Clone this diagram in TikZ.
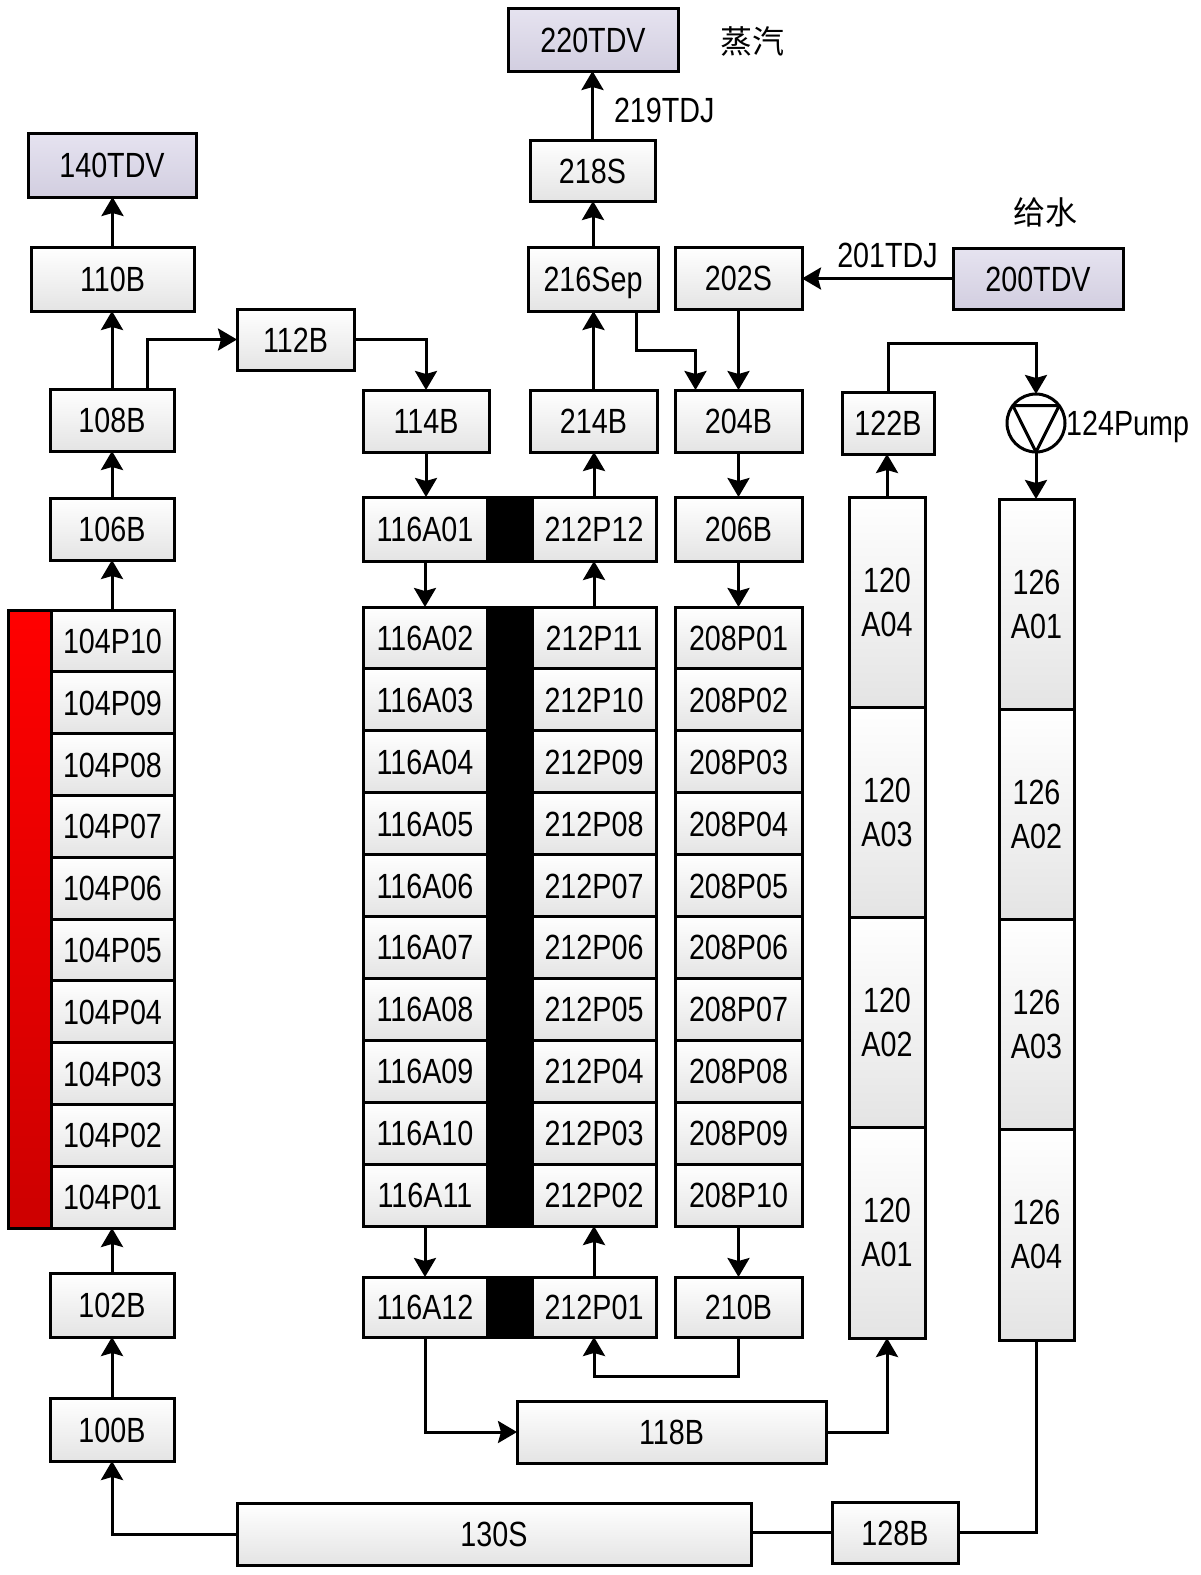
\documentclass[tikz,border=0pt]{standalone}
\usepackage{fontspec}
\setmainfont{Liberation Sans}[FakeStretch=0.82]
\newfontfamily\cjk{Noto Sans CJK SC}
\usetikzlibrary{arrows.meta,calc}
\definecolor{boxgray}{RGB}{228,228,228}
\definecolor{tdvtop}{RGB}{230,227,240}
\definecolor{tdvbot}{RGB}{210,206,224}
\definecolor{redtop}{RGB}{255,0,0}
\definecolor{redbot}{RGB}{205,0,0}
\newcommand\pbox[7][bx]{%
  \pgfmathsetmacro\myW{(#5)-(#3)}%
  \pgfmathsetmacro\myH{(#6)-(#4)}%
  \node[#1, minimum width=\myW pt, minimum height=\myH pt] (#2) at ({((#3)+(#5))/2},{((#4)+(#6))/2}) {#7};}
\tikzset{
  base/.style={draw, line width=3pt, inner sep=0pt, outer sep=0pt, top color=white, bottom color=boxgray, font=\fontsize{35}{44}\selectfont},
  bx/.style={base, text height=25pt, text depth=0pt},
  tdv/.style={bx, top color=tdvtop, bottom color=tdvbot},
  col/.style={base, align=center},
  arr/.style={line width=3pt, -{Stealth[length=19pt,width=22pt,inset=3pt]}},
  ln/.style={line width=3pt},
  lbl/.style={font=\fontsize{35}{44}\selectfont, inner sep=0pt, text height=25pt, text depth=0pt},
  cjklbl/.style={font=\cjk\fontsize{32}{36}\selectfont, inner sep=0pt},
}
\begin{document}
\begin{tikzpicture}[x=1pt,y=-1pt]
\fill[white] (0,0) rectangle (1200,1575);
\useasboundingbox (0,0) rectangle (1200,1575);

% left column
\pbox[tdv]{T140}{28}{133}{196}{197}{140TDV}
\pbox{B110}{31}{247}{194}{311}{110B}
\pbox{B108}{50}{389}{174}{451}{108B}
\pbox{B112}{237}{309}{354}{370}{112B}
\pbox{B106}{50}{498}{174}{560}{106B}
\draw[line width=3pt, top color=redtop, bottom color=redbot] (8,610) rectangle (51,1228);
\foreach \k/\n in {0/10,1/09,2/08,3/07,4/06,5/05,6/04,7/03,8/02,9/01}{
  \pgfmathsetmacro\ya{610+\k*61.8}\pgfmathsetmacro\yb{\ya+61.8}
  \pbox{L\n}{51}{\ya}{174}{\yb}{104P\n}
}
\pbox{B102}{50}{1273}{174}{1337}{102B}
\pbox{B100}{50}{1398}{174}{1461}{100B}
\pbox{S130}{237}{1503}{751}{1565}{130S}
\pbox{B128}{832}{1502}{958}{1563}{128B}

% middle
\pbox{B114}{363}{390}{489}{452}{114B}
\pbox{A01}{363}{497}{487}{561}{116A01}
\pbox{R12}{532}{497}{656}{561}{212P12}
\draw[line width=3pt, fill=black] (487,497) rectangle (532,561);
\foreach \k/\a/\r in {0/02/11,1/03/10,2/04/09,3/05/08,4/06/07,5/07/06,6/08/05,7/09/04,8/10/03,9/11/02}{
  \pgfmathsetmacro\ya{607+\k*61.9}\pgfmathsetmacro\yb{\ya+61.9}
  \pbox{A\a}{363}{\ya}{487}{\yb}{116A\a}
  \pbox{R\r}{532}{\ya}{656}{\yb}{212P\r}
}
\draw[line width=3pt, fill=black] (487,607) rectangle (532,1226);
\pbox{A12}{363}{1277}{487}{1337}{116A12}
\pbox{R01}{532}{1277}{656}{1337}{212P01}
\draw[line width=3pt, fill=black] (487,1277) rectangle (532,1337);
\foreach \k/\q in {0/01,1/02,2/03,3/04,4/05,5/06,6/07,7/08,8/09,9/10}{
  \pgfmathsetmacro\ya{607+\k*61.9}\pgfmathsetmacro\yb{\ya+61.9}
  \pbox{Q\q}{675}{\ya}{802}{\yb}{208P\q}
}
\pbox{B206}{675}{497}{802}{561}{206B}
\pbox{B204}{675}{390}{802}{452}{204B}
\pbox{S202}{675}{247}{802}{309}{202S}
\pbox{B214}{530}{390}{657}{452}{214B}
\pbox{S216}{528}{247}{658}{311}{216Sep}
\pbox{S218}{530}{140}{655}{201}{218S}
\pbox[tdv]{T220}{508}{8}{678}{71}{220TDV}
\pbox[tdv]{T200}{953}{248}{1123}{309}{200TDV}
\pbox{B210}{675}{1277}{802}{1337}{210B}
\pbox{B118}{517}{1401}{826}{1463}{118B}
\pbox{B122}{842}{392}{934}{454}{122B}

% right columns
\foreach \k/\a in {0/04,1/03,2/02,3/01}{
  \pgfmathsetmacro\ya{497+\k*210.25}\pgfmathsetmacro\yb{\ya+210.25}
  \pbox[col]{C120A\a}{849}{\ya}{925}{\yb}{120\\A\a}
}
\foreach \k/\a in {0/01,1/02,2/03,3/04}{
  \pgfmathsetmacro\ya{499+\k*210.25}\pgfmathsetmacro\yb{\ya+210.25}
  \pbox[col]{C126A\a}{999}{\ya}{1074}{\yb}{126\\A\a}
}

% pump
\node[draw, circle, line width=3pt, minimum size=58pt, inner sep=0pt, outer sep=0pt] (pump) at (1036,423) {};
\draw[ln, line join=round] (pump.143) -- (pump.37) -- (pump.south) -- cycle;
\node[lbl, anchor=west] (pumplbl) at ([xshift=1pt]pump.east) {124Pump};

% texts
\node[cjklbl] (steam) at (752,41) {蒸汽};
\node[cjklbl] (feed) at (1045,212) {给水};

% connectors left
\draw[arr] (B100.north) -- (B100.north |- B102.south);
\draw[arr] (B102.north) -- (B102.north |- L01.south);
\draw[arr] (B106.south |- L10.north) -- (B106.south);
\draw[arr] (B106.north) -- (B106.north |- B108.south);
\draw[arr] (B108.north) -- (B108.north |- B110.south);
\draw[arr] (B110.north) -- (B110.north |- T140.south);
\draw[arr] ([xshift=35pt]B108.north) |- (B112.west);
\draw[arr] (B112.east) -| (B114.north);
\draw[arr] (B114.south) -- (B114.south |- A01.north);
\draw[arr] (A01.south) -- (A01.south |- A02.north);
\draw[arr] (A11.south) -- (A11.south |- A12.north);
\draw[arr] (A12.south) |- (B118.west);
\draw[arr] (B118.east) -| (C120A01.south);
\draw[arr] (C120A04.north) -- (C120A04.north |- B122.south);
\draw[arr] (B122.north) -- ++(0,-49) -| (pump.north);
\draw[arr] (pump.south) -- (pump.south |- C126A01.north);
\draw[ln] (C126A04.south) |- (B128.east);
\draw[ln] (B128.west) -- (B128.west -| S130.east);
\draw[arr] (S130.west) -| (B100.south);

% connectors middle
\draw[arr] (B210.south) -- ++(0,39) -| (R01.south);
\draw[arr] (R01.north) -- (R01.north |- R02.south);
\draw[arr] (R11.north) -- (R11.north |- R12.south);
\draw[arr] (R12.north) -- (R12.north |- B214.south);
\draw[arr] (B214.north) -- (B214.north |- S216.south);
\draw[arr] (S216.north) -- (S216.north |- S218.south);
\draw[arr] (S218.north) -- node[lbl, midway, anchor=west, xshift=20pt, yshift=-4pt] {219TDJ} (S218.north |- T220.south);
\draw[arr] ([xshift=43pt]S216.south) -- ++(0,39) -| ([xshift=-43pt]B204.north);
\draw[arr] (S202.south) -- (S202.south |- B204.north);
\draw[arr] (T200.west) -- node[lbl, midway, anchor=south, xshift=10pt, yshift=10pt] {201TDJ} (T200.west -| S202.east);
\draw[arr] (B204.south) -- (B204.south |- B206.north);
\draw[arr] (B206.south) -- (B206.south |- Q01.north);
\draw[arr] (Q10.south) -- (Q10.south |- B210.north);
\end{tikzpicture}
\end{document}
